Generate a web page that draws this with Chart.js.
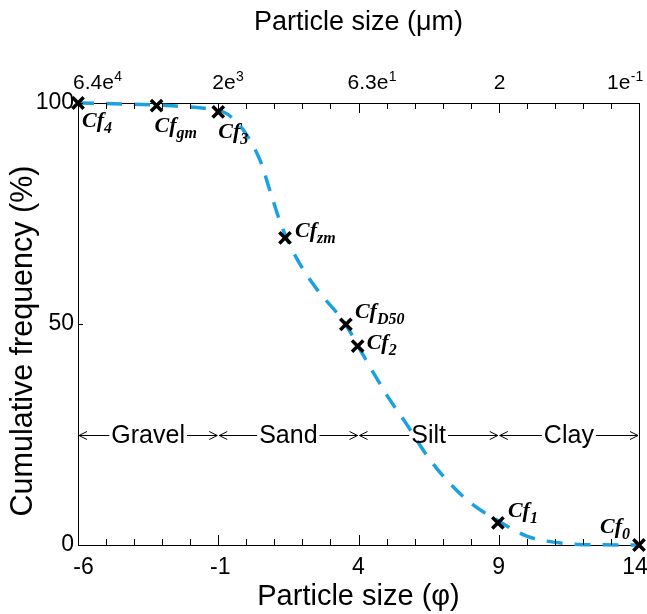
<!DOCTYPE html>
<html>
<head>
<meta charset="utf-8">
<script src="https://cdn.jsdelivr.net/npm/chart.js@4.4.0/dist/chart.umd.min.js"></script>
<style>
  html, body { margin: 0; padding: 0; background: #fff; }
  #wrap { width: 647px; height: 614px; }
</style>
</head>
<body>
<div id="wrap"><canvas id="psdChart"></canvas></div>
<script>
// dashed cumulative curve (phi, %)
const curvePhi  = [-6, -4, -2.5, -1.5, -1, -0.7, -0.4, -0.05, 0.5, 0.9, 1.3, 1.8, 2.5, 3.5, 4.2, 5.05, 5.7, 6.4, 7.1, 8, 9, 10, 11.2, 12.5, 14];
const curveFreq = [100, 99.7, 99.3, 98.8, 98.4, 97.6, 96, 93.4, 86.9, 79, 71.5, 64.8, 58, 50.3, 42.6, 33.5, 27.5, 20.6, 15, 9.5, 5.4, 2, 0.45, 0.05, 0];

// characteristic points
const markerPhi  = [-6, -3.2, -1, 1.38, 3.55, 3.97, 8.97, 14];
const markerFreq = [100, 99.4, 98, 69.5, 49.9, 45, 5, 0];
const markerSub  = ['4', 'gm', '3', 'zm', 'D50', '2', '1', '0'];

// axis ticks
const phiTicks   = [-6, -1, 4, 9, 14];
const umMantissa = ['6.4e', '2e', '6.3e', '2', '1e'];
const umExponent = ['4', '3', '1', '', '-1'];
const freqTicks  = [0, 50, 100];

// size classes
const classNames  = ['Gravel', 'Sand', 'Silt', 'Clay'];
const classBounds = [-6, -1, 4, 9, 14];
const classLevel  = 25;

// label placement (px from the marker / tick)
const subOffsets = [[4, 24], [-2, 26], [0, 26], [10, -1], [9, -6], [9, 3], [10, -6], [-39, -12]];
const umShift  = [-5, -6, -11, -5, -32];
const phiShift = [5.5, 2, 0, 0, -4];   // end labels are pulled inside the figure

const SANS = '"Liberation Sans", Arial, sans-serif';
const SERIF = '"Liberation Serif", "Times New Roman", serif';

const decorations = {
  id: 'decorations',
  afterDraw(chart) {
    const { ctx, chartArea: a, scales } = chart;
    const x = scales.x, y = scales.y;
    ctx.save();
    ctx.strokeStyle = '#000';
    ctx.fillStyle = '#000';
    ctx.lineWidth = 1;

    const seg = (x1, y1, x2, y2) => {
      ctx.beginPath(); ctx.moveTo(x1, y1); ctx.lineTo(x2, y2); ctx.stroke();
    };

    // right frame
    seg(a.right + 0.5, a.top, a.right + 0.5, a.bottom);

    // inward ticks on top and bottom
    for (let v = -6; v <= 14; v++) {
      const px = Math.round(x.getPixelForValue(v)) + 0.5;
      const len = phiTicks.includes(v) ? 10 : 6;
      seg(px, a.bottom, px, a.bottom - len);
      seg(px, a.top, px, a.top + len);
    }
    freqTicks.forEach(v => {
      const py = Math.round(y.getPixelForValue(v)) + 0.5;
      seg(a.left, py, a.left + 5, py);
    });

    // bottom phi labels
    ctx.font = '23px ' + SANS;
    ctx.textAlign = 'center';
    ctx.textBaseline = 'middle';
    phiTicks.forEach((v, i) => {
      ctx.fillText(String(v), x.getPixelForValue(v) + phiShift[i], a.bottom + 23);
    });

    // y title (sits a little below the middle in the original)
    ctx.save();
    ctx.translate(24, (a.top + a.bottom) / 2 + 17);
    ctx.rotate(-Math.PI / 2);
    ctx.font = '30.5px ' + SANS;
    ctx.fillText('Cumulative frequency (%)', 0, 0);
    ctx.restore();

    // top labels in micrometres
    ctx.textAlign = 'left';
    ctx.textBaseline = 'alphabetic';
    umMantissa.forEach((m, i) => {
      const px = x.getPixelForValue(phiTicks[i]) + umShift[i];
      ctx.font = '21px ' + SANS;
      ctx.fillText(m, px, a.top - 14);
      const w = ctx.measureText(m).width;
      if (umExponent[i]) {
        ctx.font = '14px ' + SANS;
        ctx.fillText(umExponent[i], px + w + 0.5, a.top - 22);
      }
    });

    // size class arrows
    const ly = Math.round(y.getPixelForValue(classLevel)) + 0.5;
    ctx.font = '25px ' + SANS;
    ctx.textAlign = 'center';
    ctx.textBaseline = 'middle';
    classNames.forEach((name, i) => {
      const p0 = x.getPixelForValue(classBounds[i]);
      const p1 = x.getPixelForValue(classBounds[i + 1]);
      const c = (p0 + p1) / 2;
      const w = ctx.measureText(name).width;
      ctx.fillText(name, c, ly + 1);
      seg(p0 + 1, ly, c - w / 2 - 2, ly);
      seg(c + w / 2 + 2, ly, p1 - 1, ly);
      seg(p0 + 1, ly, p0 + 9, ly - 4); seg(p0 + 1, ly, p0 + 9, ly + 4);
      seg(p1 - 1, ly, p1 - 9, ly - 4); seg(p1 - 1, ly, p1 - 9, ly + 4);
    });

    // Cf labels
    ctx.textAlign = 'left';
    ctx.textBaseline = 'alphabetic';
    markerPhi.forEach((v, i) => {
      const px = x.getPixelForValue(v) + subOffsets[i][0];
      const py = y.getPixelForValue(markerFreq[i]) + subOffsets[i][1];
      ctx.font = 'italic bold 22px ' + SERIF;
      ctx.fillText('Cf', px, py);
      const w = ctx.measureText('Cf').width;
      ctx.font = 'italic bold 16px ' + SERIF;
      ctx.fillText(markerSub[i], px + w, py + 6);
    });
    ctx.restore();
  }
};

new Chart(document.getElementById('psdChart'), {
  type: 'line',
  data: {
    datasets: [{
      label: 'Characteristic points',
      data: markerPhi.map((v, i) => ({ x: v, y: markerFreq[i] })),
      showLine: false,
      pointStyle: 'crossRot',
      pointRadius: 8,
      pointBorderWidth: 3.5,
      pointBorderColor: '#000',
      pointBackgroundColor: '#000',
      clip: false
    }, {
      label: 'Cumulative frequency',
      data: curvePhi.map((v, i) => ({ x: v, y: curveFreq[i] })),
      borderColor: '#1ba1e0',
      borderWidth: 3.5,
      borderDash: [16, 12],
      pointRadius: 0,
      cubicInterpolationMode: 'monotone',
      fill: false,
      clip: false
    }]
  },
  options: {
    responsive: true,
    maintainAspectRatio: false,
    animation: false,
    // markers overflow the frame on purpose, so no automatic room for them
    layout: { autoPadding: false, padding: { left: 0, right: 8, top: 0, bottom: 0 } },
    plugins: { legend: { display: false }, tooltip: { enabled: false } },
    scales: {
      x: {
        type: 'linear',
        position: 'bottom',
        min: -6,
        max: 14,
        afterBuildTicks: s => { s.ticks = phiTicks.map(v => ({ value: v })); },
        afterFit: s => { s.height = 69; },
        grid: { display: false, drawTicks: false },
        border: { display: true, color: '#000', width: 1 },
        ticks: { display: false },
        title: {
          display: true,
          text: 'Particle size (φ)',
          color: '#000',
          font: { family: SANS, size: 29 },
          padding: { top: 0, bottom: 0 }
        }
      },
      x2: {
        type: 'linear',
        position: 'top',
        min: -6,
        max: 14,
        afterFit: s => { s.height = 103; },
        grid: { display: false, drawTicks: false },
        border: { display: true, color: '#000', width: 1 },
        ticks: { display: false },
        title: {
          display: true,
          text: 'Particle size (μm)',
          color: '#000',
          font: { family: SANS, size: 27 },
          padding: { top: 6, bottom: 0 }
        }
      },
      y: {
        min: 0,
        max: 100,
        afterBuildTicks: s => { s.ticks = freqTicks.map(v => ({ value: v })); },
        afterFit: s => { s.width = 78; },
        grid: { display: false, drawTicks: false },
        border: { display: true, color: '#000', width: 1 },
        ticks: { color: '#000', font: { family: SANS, size: 23 }, padding: 4 },
        title: { display: false }
      }
    }
  },
  plugins: [decorations]
});
</script>
</body>
</html>
